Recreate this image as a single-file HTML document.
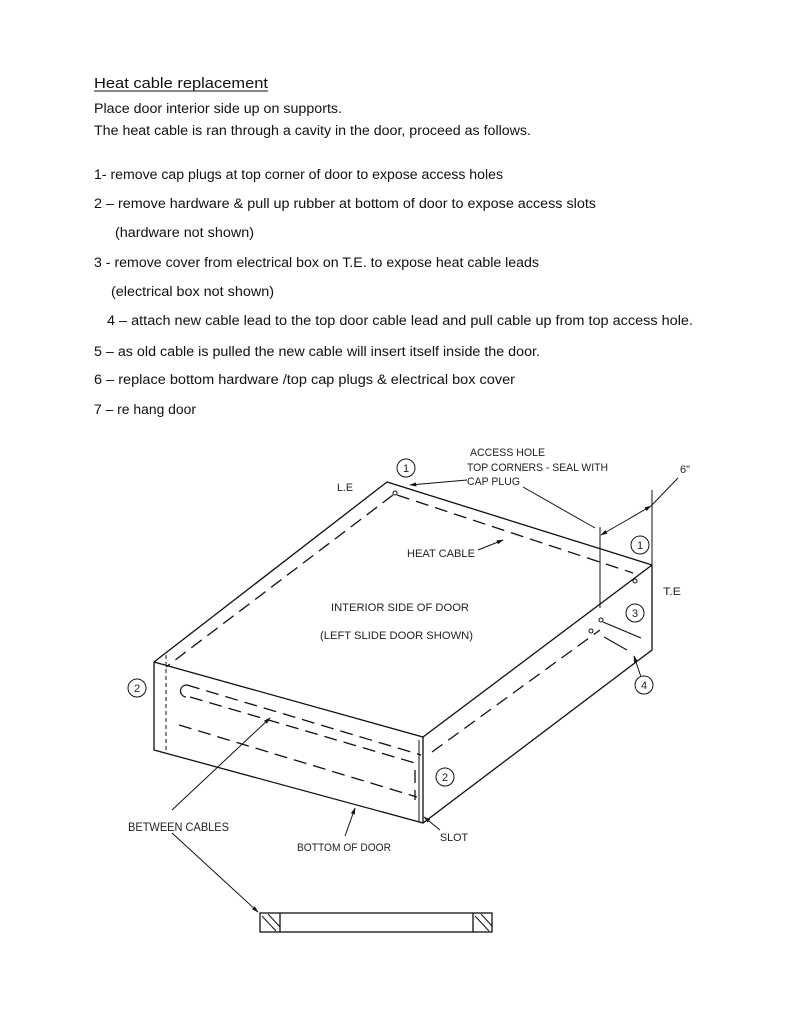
<!DOCTYPE html>
<html><head><meta charset="utf-8"><style>
html,body{margin:0;padding:0;background:#fff;}
svg{display:block;}
.t{font-family:"Liberation Sans",sans-serif;font-size:13.5px;fill:#111;}
.d{font-family:"Liberation Sans",sans-serif;font-size:11px;fill:#222;}
</style></head><body>
<svg width="791" height="1024" viewBox="0 0 791 1024" xmlns="http://www.w3.org/2000/svg">
<defs><marker id="ah" viewBox="0 0 10 10" refX="9" refY="5" markerWidth="7" markerHeight="7" orient="auto"><path d="M0,2 L10,5 L0,8 z" fill="#111"/></marker></defs>
<g class="t">
<text x="94" y="88" textLength="174" lengthAdjust="spacingAndGlyphs" font-size="15">Heat cable replacement</text>
<line x1="94" y1="91" x2="268" y2="91" stroke="#111" stroke-width="1"/>
<text x="94" y="113" textLength="248" lengthAdjust="spacingAndGlyphs">Place door interior side up on supports.</text>
<text x="94" y="135" textLength="437" lengthAdjust="spacingAndGlyphs">The heat cable is ran through a cavity in the door, proceed as follows.</text>
<text x="94" y="179" textLength="409" lengthAdjust="spacingAndGlyphs">1- remove cap plugs at top corner of door to expose access holes</text>
<text x="94" y="208" textLength="502" lengthAdjust="spacingAndGlyphs">2 – remove hardware &amp; pull up rubber at bottom of door to expose access slots</text>
<text x="115" y="237" textLength="139" lengthAdjust="spacingAndGlyphs">(hardware not shown)</text>
<text x="94" y="267" textLength="445" lengthAdjust="spacingAndGlyphs">3 - remove cover from electrical box on T.E. to expose heat cable leads</text>
<text x="111" y="296" textLength="163" lengthAdjust="spacingAndGlyphs">(electrical box not shown)</text>
<text x="107" y="325" textLength="586" lengthAdjust="spacingAndGlyphs">4 – attach new cable lead to the top door cable lead and pull cable up from top   access hole.</text>
<text x="94" y="356" textLength="446" lengthAdjust="spacingAndGlyphs">5 – as old cable is pulled the new cable will insert itself inside the door.</text>
<text x="94" y="384" textLength="421" lengthAdjust="spacingAndGlyphs">6 – replace bottom hardware /top cap plugs  &amp; electrical box cover</text>
<text x="94" y="414" textLength="102" lengthAdjust="spacingAndGlyphs">7 – re hang door</text>
</g>
<g stroke="#111" stroke-width="1.3" fill="none">
<!-- box outline -->
<path d="M154,662 L387,482 L652,565 L652,650 L423,823 L154,750 Z"/>
<path d="M154,662 L423,737 L652,565"/>
<line x1="423" y1="737" x2="423" y2="823"/>
<line x1="419" y1="740" x2="419" y2="822" stroke-width="1"/>
<line x1="166" y1="655" x2="166" y2="750" stroke-dasharray="4,3" stroke-width="1"/>
<!-- dashed cables -->
<g stroke-dasharray="13,7">
<line x1="393" y1="495" x2="166" y2="667"/>
<line x1="397" y1="495" x2="633" y2="573"/>
<line x1="187" y1="685" x2="421" y2="755"/>
<line x1="179" y1="725" x2="417" y2="797"/>
<line x1="432" y1="752" x2="600" y2="630"/>
<line x1="190" y1="697" x2="415" y2="763"/>
<line x1="415" y1="770" x2="415" y2="800"/>
</g>
<path d="M187,685 A6,6 0 0 0 186,697" stroke-width="1.2"/>
<!-- access holes -->
<circle cx="395" cy="493" r="2" stroke-width="1"/>
<circle cx="635" cy="581" r="2" stroke-width="1"/>
<circle cx="601" cy="620" r="2" stroke-width="1"/>
<circle cx="591" cy="631" r="2" stroke-width="1"/>
<line x1="603" y1="622" x2="641" y2="638" stroke-width="1.1"/>
<line x1="604" y1="637" x2="627" y2="650" stroke-width="1.1"/>
<!-- 6" dimension -->
<line x1="600" y1="527" x2="600" y2="608" stroke-width="1"/>
<line x1="652" y1="490" x2="652" y2="565" stroke-width="1"/>
<line x1="627" y1="520" x2="601" y2="535" marker-end="url(#ah)" stroke-width="1"/>
<line x1="627" y1="520" x2="651" y2="506" marker-end="url(#ah)" stroke-width="1"/>
<line x1="651" y1="506" x2="678" y2="478" stroke-width="1"/>
<!-- leaders -->
<line x1="467" y1="480" x2="410" y2="485" marker-end="url(#ah)" stroke-width="1"/>
<line x1="523" y1="487" x2="595" y2="528" stroke-width="1"/>
<line x1="478" y1="550" x2="503" y2="540" marker-end="url(#ah)" stroke-width="1"/>
<line x1="172" y1="810" x2="270" y2="718" marker-end="url(#ah)" stroke-width="1"/>
<line x1="345" y1="836" x2="355" y2="808" marker-end="url(#ah)" stroke-width="1"/>
<line x1="440" y1="830" x2="424" y2="817" marker-end="url(#ah)" stroke-width="1"/>
<line x1="641" y1="677" x2="634" y2="656" marker-end="url(#ah)" stroke-width="1"/>
<line x1="172" y1="833" x2="258" y2="912" marker-end="url(#ah)" stroke-width="1"/>
<!-- circles -->
<g stroke-width="1">
<circle cx="406" cy="468" r="9"/><circle cx="640" cy="545" r="9"/>
<circle cx="635" cy="613" r="9"/><circle cx="644" cy="685" r="9"/>
<circle cx="137" cy="688" r="9"/><circle cx="445" cy="777" r="9"/>
</g>
<!-- bottom section -->
<rect x="260" y="913" width="232" height="19"/>
<line x1="280" y1="913" x2="280" y2="932"/>
<line x1="473" y1="913" x2="473" y2="932"/>
<line x1="262" y1="916" x2="276" y2="931" stroke-width="1"/>
<line x1="268" y1="914" x2="280" y2="927" stroke-width="1"/>
<line x1="475" y1="916" x2="489" y2="931" stroke-width="1"/>
<line x1="481" y1="914" x2="492" y2="926" stroke-width="1"/>
</g>
<g class="d" text-anchor="middle">
<text x="406" y="472">1</text><text x="640" y="549">1</text>
<text x="635" y="617">3</text><text x="644" y="689">4</text>
<text x="137" y="692">2</text><text x="445" y="781">2</text>
</g>
<g class="d">
<text x="470" y="456" textLength="75" lengthAdjust="spacingAndGlyphs">ACCESS HOLE</text>
<text x="467" y="471" textLength="141" lengthAdjust="spacingAndGlyphs">TOP CORNERS - SEAL WITH</text>
<text x="467" y="485" textLength="53" lengthAdjust="spacingAndGlyphs">CAP PLUG</text>
<text x="680" y="473">6"</text>
<text x="337" y="491" textLength="16" lengthAdjust="spacingAndGlyphs">L.E</text>
<text x="407" y="557" textLength="68" lengthAdjust="spacingAndGlyphs">HEAT CABLE</text>
<text x="663" y="595" textLength="18" lengthAdjust="spacingAndGlyphs">T.E</text>
<text x="331" y="611" textLength="138" lengthAdjust="spacingAndGlyphs">INTERIOR SIDE OF DOOR</text>
<text x="320" y="639" textLength="153" lengthAdjust="spacingAndGlyphs">(LEFT SLIDE DOOR SHOWN)</text>
<text x="128" y="831" textLength="101" lengthAdjust="spacingAndGlyphs" font-size="12">BETWEEN CABLES</text>
<text x="297" y="851" textLength="94" lengthAdjust="spacingAndGlyphs">BOTTOM OF DOOR</text>
<text x="440" y="841" textLength="28" lengthAdjust="spacingAndGlyphs">SLOT</text>
</g>
</svg>
</body></html>
